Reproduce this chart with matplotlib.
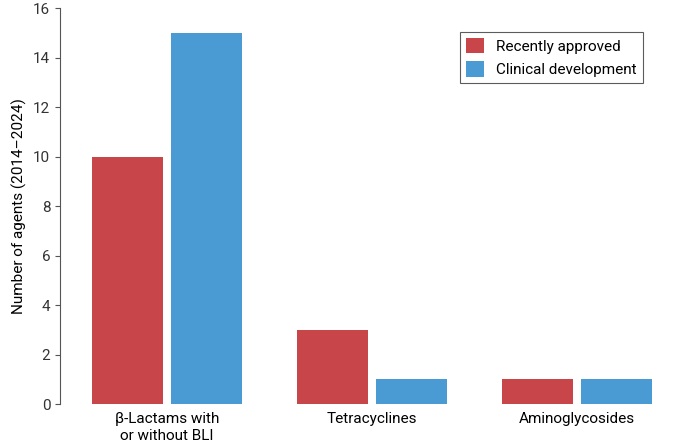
import matplotlib
matplotlib.use("Agg")
import matplotlib.pyplot as plt
import numpy as np

categories = ["β-Lactams with\nor without BLI", "Tetracyclines", "Aminoglycosides"]
recently_approved = [10, 3, 1]
clinical_development = [15, 1, 1]

plt.rcParams['font.family'] = ['Roboto', 'DejaVu Sans']
fig = plt.figure(figsize=(6.85, 4.48), dpi=100)
ax = fig.add_axes([0.0876, 0.098, 0.9124, 0.884])
x = np.arange(len(categories))
w = 0.346
ax.bar(x - 0.193, recently_approved, w, color="#C8464A", label="Recently approved")
ax.bar(x + 0.193, clinical_development, w, color="#4A9BD3", label="Clinical development")
ax.set_xlim(-0.522, 2.527)
ax.set_ylim(0, 16)
ax.set_yticks(range(0, 17, 2))
ax.set_xticks(x)
ax.set_xticklabels(categories, fontsize=11)
ax.tick_params(axis='x', length=0, pad=6)
ax.tick_params(axis='y', labelsize=11, color='#555555', labelcolor='#333333')
for s in ['top', 'right', 'bottom']:
    ax.spines[s].set_visible(False)
ax.spines['left'].set_color('#555555')
ax.set_ylabel("Number of agents (2014–2024)", fontsize=11)
leg = ax.legend(loc='upper right', bbox_to_anchor=(0.945, 0.96), fontsize=11,
                fancybox=False, edgecolor='#333333', handlelength=1.2, handleheight=1.2)
leg.get_frame().set_linewidth(0.8)
fig.savefig("out.png", dpi=100)
